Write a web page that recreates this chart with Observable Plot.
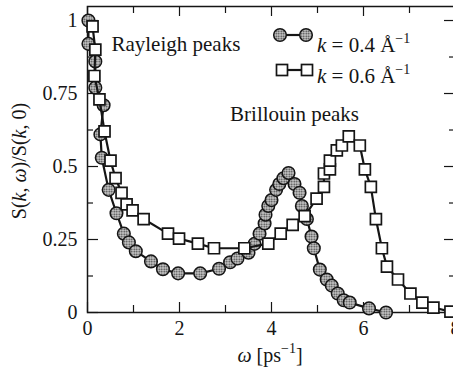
<!DOCTYPE html>
<html><head><meta charset="utf-8">
<script src="https://cdn.jsdelivr.net/npm/d3@7"></script>
<script src="https://cdn.jsdelivr.net/npm/@observablehq/plot@0.6"></script>
<style>
html,body{margin:0;padding:0;background:#fff;overflow:hidden}
#chart{width:453px;height:374px;overflow:hidden}
#chart svg text{font-family:"Liberation Serif","Tinos","Times New Roman","DejaVu Serif",serif}
</style>
</head><body><div id="chart"></div>
<script>
// k = 0.4 Å^-1 (stippled circles)
const omega04 = [0.02,0.02,0.17,0.17,0.35,0.28,0.31,0.46,0.63,0.79,0.90,1.05,1.38,1.64,1.97,2.45,2.86,3.10,3.26,3.50,3.63,3.74,3.85,3.87,3.93,4.00,4.10,4.17,4.26,4.37,4.50,4.61,4.66,4.77,4.87,4.92,5.05,5.20,5.31,5.44,5.57,5.70,6.12,6.49];
const s04 = [1.00,0.92,0.86,0.77,0.71,0.61,0.53,0.42,0.34,0.27,0.24,0.21,0.175,0.148,0.134,0.134,0.15,0.172,0.185,0.205,0.235,0.27,0.305,0.335,0.365,0.385,0.42,0.44,0.46,0.478,0.44,0.41,0.365,0.32,0.26,0.22,0.147,0.113,0.092,0.065,0.042,0.034,0.014,0.0];
// k = 0.6 Å^-1 (open squares)
const omega06 = [0.11,0.17,0.15,0.26,0.37,0.50,0.61,0.74,0.85,0.98,1.22,1.75,1.99,2.40,2.75,3.41,3.93,4.20,4.46,4.72,4.98,5.14,5.14,5.27,5.27,5.42,5.53,5.68,5.92,6.03,6.16,6.27,6.40,6.51,6.75,7.02,7.28,7.52,7.89];
const s06 = [0.98,0.90,0.81,0.73,0.62,0.52,0.46,0.41,0.37,0.35,0.32,0.27,0.253,0.236,0.22,0.22,0.236,0.27,0.30,0.33,0.39,0.43,0.476,0.49,0.52,0.555,0.572,0.603,0.572,0.49,0.43,0.32,0.22,0.157,0.113,0.065,0.034,0.017,0.003];

const xTicks = [0,2,4,6,8];
const xMinorTicks = [1,3,5,7];
const yTicks = [0,0.25,0.5,0.75,1];
const yMinorTicks = [0.125,0.375,0.625,0.875];
const yTickLabels = ["0","0.25","0.5","0.75","1"];
const seriesNames = ["0.4","0.6"];
const annotations = [{text:"Rayleigh peaks", x:0.52, y:0.897},{text:"Brillouin peaks", x:3.1, y:0.657}];

const d04 = omega04.map((x,i)=>({x, y:s04[i]}));
const d06 = omega06.map((x,i)=>({x, y:s06[i]}));

const W=453, H=374, mL=87, mR=-2, mT=6, mB=62;
const plotW = W-mL-mR, plotH = H-mT-mB;
const ink = "#151515";
const font = "'Liberation Serif','Tinos','Times New Roman','DejaVu Serif',serif";

const chart = Plot.plot({
  width: W, height: H,
  marginLeft: mL, marginRight: mR, marginTop: mT, marginBottom: mB,
  style: {fontFamily: font, fontSize: "20px", color: ink, background: "white"},
  x: {domain:[0,8], ticks: xTicks, tickSize:0, tickPadding:8, tickFormat: d=>String(d), label:null},
  y: {domain:[0,1.048], ticks: yTicks, tickSize:0, tickPadding:10, tickFormat: d=>yTickLabels[yTicks.indexOf(d)], label:null},
  marks: [
    Plot.tickX(xTicks, {x:d=>d, insetTop: plotH-10, stroke: ink, strokeWidth:1.2}),
    Plot.tickX(xTicks, {x:d=>d, insetBottom: plotH-10, stroke: ink, strokeWidth:1.2}),
    Plot.tickX(xMinorTicks, {x:d=>d, insetTop: plotH-7, stroke: ink, strokeWidth:1.2}),
    Plot.tickX(xMinorTicks, {x:d=>d, insetBottom: plotH-7, stroke: ink, strokeWidth:1.2}),
    Plot.tickY(yTicks, {y:d=>d, insetRight: plotW-11, stroke: ink, strokeWidth:1.2}),
    Plot.tickY(yTicks, {y:d=>d, insetLeft: plotW-11, stroke: ink, strokeWidth:1.2}),
    Plot.tickY(yMinorTicks, {y:d=>d, insetRight: plotW-6, stroke: ink, strokeWidth:1.2}),
    Plot.tickY(yMinorTicks, {y:d=>d, insetLeft: plotW-6, stroke: ink, strokeWidth:1.2}),
    Plot.frame({stroke: ink, strokeWidth:1.5}),
    Plot.line(d04, {x:"x", y:"y", stroke: ink, strokeWidth:2.2}),
    Plot.dot(d04, {x:"x", y:"y", r:6.3, fill:"url(#stipple)", stroke: ink, strokeWidth:1.5}),
    Plot.line(d06, {x:"x", y:"y", stroke: ink, strokeWidth:2.2}),
    Plot.dot(d06, {x:"x", y:"y", symbol:"square", r:6.2, fill:"white", stroke: ink, strokeWidth:1.7}),
    Plot.text(annotations, {x:"x", y:"y", text:"text", textAnchor:"start", lineAnchor:"bottom", fontSize:21, fill: ink})
  ]
});
document.getElementById("chart").appendChild(chart);

const svg = d3.select(chart);
const defs = svg.insert("defs", ":first-child");
const pat = defs.append("pattern").attr("id","stipple").attr("patternUnits","userSpaceOnUse").attr("width",2.5).attr("height",2.5);
pat.append("rect").attr("width",2.5).attr("height",2.5).attr("fill","#cfcfcf");
pat.append("circle").attr("cx",1.25).attr("cy",1.25).attr("r",0.9).attr("fill","#3a3a3a");

// Legend
const leg = svg.append("g").attr("font-family", font).attr("font-size", 21).attr("fill", ink).attr("text-anchor","start");
function legendText(g, x, y, k) {
  const t = g.append("text").attr("x", x).attr("y", y).attr("text-anchor","start");
  t.append("tspan").attr("font-style","italic").text("k");
  t.append("tspan").text(" = " + k + " Å");
  t.append("tspan").attr("dy", -9).attr("font-size", 14).text("−1");
}
const l1 = leg.append("g");
l1.append("line").attr("x1",280).attr("x2",306).attr("y1",35).attr("y2",35).attr("stroke",ink).attr("stroke-width",2.2);
[280,306].forEach(cx => l1.append("circle").attr("cx",cx).attr("cy",35).attr("r",6.3).attr("fill","url(#stipple)").attr("stroke",ink).attr("stroke-width",1.5));
legendText(l1, 317, 52, seriesNames[0]);
const l2 = leg.append("g");
l2.append("line").attr("x1",282).attr("x2",307).attr("y1",70).attr("y2",70).attr("stroke",ink).attr("stroke-width",2.2);
[282,307].forEach(cx => l2.append("rect").attr("x",cx-5.5).attr("y",64.5).attr("width",11).attr("height",11).attr("fill","white").attr("stroke",ink).attr("stroke-width",1.7));
legendText(l2, 317, 83, seriesNames[1]);

// Axis titles
const xt = svg.append("text").attr("x", 270).attr("y", 362).attr("text-anchor","middle")
  .attr("font-family", font).attr("font-size", 20).attr("fill", ink);
xt.append("tspan").attr("font-style","italic").text("ω");
xt.append("tspan").text(" [ps");
xt.append("tspan").attr("dy",-9).attr("font-size",14).text("−1");
xt.append("tspan").attr("dy",9).text("]");

const yt = svg.append("text").attr("transform","translate(26,161) rotate(-90)").attr("text-anchor","middle")
  .attr("font-family", font).attr("font-size", 20).attr("fill", ink);
yt.append("tspan").text("S(");
yt.append("tspan").attr("font-style","italic").text("k");
yt.append("tspan").text(", ");
yt.append("tspan").attr("font-style","italic").text("ω");
yt.append("tspan").text(")/S(");
yt.append("tspan").attr("font-style","italic").text("k");
yt.append("tspan").text(", 0)");
</script>
</body></html>
